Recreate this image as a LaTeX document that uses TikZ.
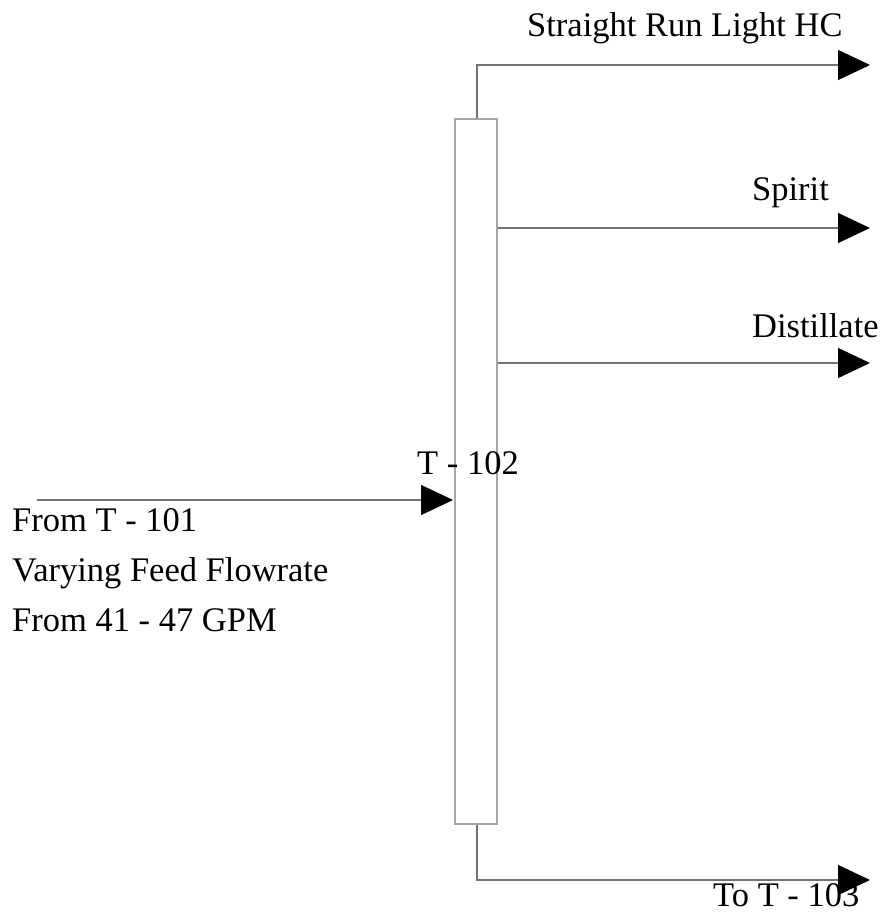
\documentclass[tikz,border=0pt]{standalone}
\usepackage{fontspec}
\setmainfont{Liberation Serif}
\usetikzlibrary{arrows.meta}
\begin{document}
\begin{tikzpicture}[x=1pt,y=-1pt,
  pipe/.style={draw=black!55,line width=1.3pt},
  flow/.style={pipe,-{Triangle[length=32pt,width=30pt,black,fill=black]}},
  lbl/.style={anchor=base west,inner sep=0pt,font=\fontsize{34.5}{40}\selectfont},
  column/.style={draw=black!35,line width=1.2pt,minimum width=42pt,minimum height=705pt,inner sep=0pt}]
\useasboundingbox (0,0) rectangle (885,915);
\node[column] (col) at (476,471.5) {};
\coordinate (topbend) at (477,65);
\coordinate (topend) at (870,65);
\coordinate (spend) at (870,228);
\coordinate (diend) at (870,363);
\coordinate (feedstart) at (37,500);
\coordinate (feedend) at (453,500);
\coordinate (botbend) at (477,880);
\coordinate (botend) at (870,880);
\coordinate (spstart) at (col.east |- spend);
\coordinate (distart) at (col.east |- diend);
\draw[flow] (col.north -| topbend) -- (topbend) -- (topend);
\draw[flow] (spstart) -- (spend);
\draw[flow] (distart) -- (diend);
\draw[flow] (feedstart) -- (feedend);
\draw[flow] (col.south -| botbend) -- (botbend) -- (botend);
\node[lbl] (l1) at (527,37) {Straight Run Light HC};
\node[lbl] (l2) at (752,200) {Spirit};
\node[lbl] (l3) at (752,337) {Distillate};
\node[lbl] (l4) at (417,474) {T - 102};
\node[lbl] (l5) at (12,531) {From T - 101};
\node[lbl] (l6) at (12,581) {Varying Feed Flowrate};
\node[lbl] (l7) at (12,631) {From 41 - 47 GPM};
\node[lbl] (l8) at (713,906) {To T - 103};
\end{tikzpicture}
\end{document}
